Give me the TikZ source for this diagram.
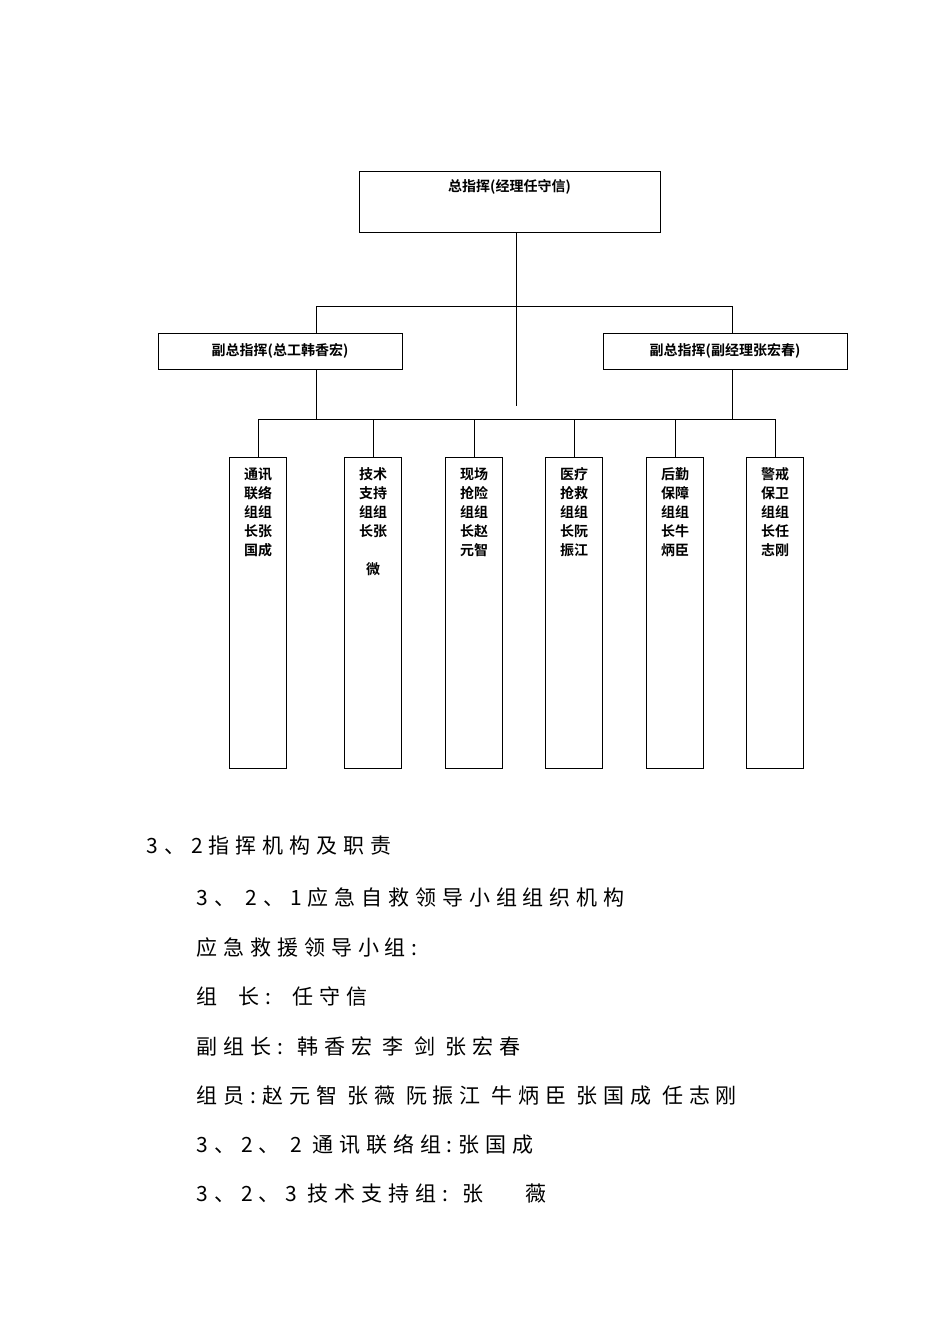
\documentclass[tikz,border=0pt]{standalone}
\usepackage{fontspec}
\newfontfamily\cjk[LetterSpace=28]{Noto Sans CJK SC}
\newfontfamily\cjkb{Noto Sans CJK SC Bold}
\begin{document}
\begin{tikzpicture}[x=1pt,y=-1pt,line width=1pt,
  box/.style={draw,rectangle,minimum width=#1,inner sep=0pt},
  lbl/.style={font=\cjkb\fontsize{14}{19}\selectfont},
  body/.style={anchor=west,font=\cjk\fontsize{21}{25}\selectfont}]
\useasboundingbox (0,0) rectangle (950,1344);
\node[box=301pt,minimum height=61pt] (top) at (509.5,201.5) {};
\node[lbl] at (509.5,187) {总指挥(经理任守信)};
\node[box=244pt,minimum height=36pt,lbl] (L) at (280,351) {副总指挥(总工韩香宏)};
\node[box=244pt,minimum height=36pt,lbl] (R) at (725,351) {副总指挥(副经理张宏春)};
\coordinate (m) at (516,406);
\draw (top.south -| m) -- (m);
\draw (316,306) -- (732,306);
\draw (316,306) -- (316,333);
\draw (732,306) -- (732,333);
\draw (316,369) -- (316,419);
\draw (732,369) -- (732,419);
\draw (258,419) -- (775,419);
\foreach \x/\n/\t in {258/b1/{通讯\\联络\\组组\\长张\\国成},373/b2/{技术\\支持\\组组\\长张\\\\微},474/b3/{现场\\抢险\\组组\\长赵\\元智},574/b4/{医疗\\抢救\\组组\\长阮\\振江},675/b5/{后勤\\保障\\组组\\长牛\\炳臣},775/b6/{警戒\\保卫\\组组\\长任\\志刚}}{
  \node[box=57pt,minimum height=311pt] (\n) at (\x,612.5) {};
  \node[lbl,align=center,anchor=north] at (\x,464) {\t};
  \draw (\x,419) -- (\n.north);
}
\node[body] at (143,846) {3、2指挥机构及职责};
\node[body] at (193,897) {3、 2、1应急自救领导小组组织机构};
\node[body] at (193,947) {应急救援领导小组:};
\node[body] at (193,996) {组\quad 长:\quad 任守信};
\node[body] at (193,1046) {副组长: 韩香宏 李 剑 张宏春};
\node[body] at (193,1096) {组员:赵元智 张薇 阮振江 牛炳臣 张国成 任志刚};
\node[body] at (193,1145) {3、2、 2 通讯联络组:张国成};
\node[body] at (193,1194) {3、2、3 技术支持组: 张\quad\ \ 薇};
\end{tikzpicture}
\end{document}
